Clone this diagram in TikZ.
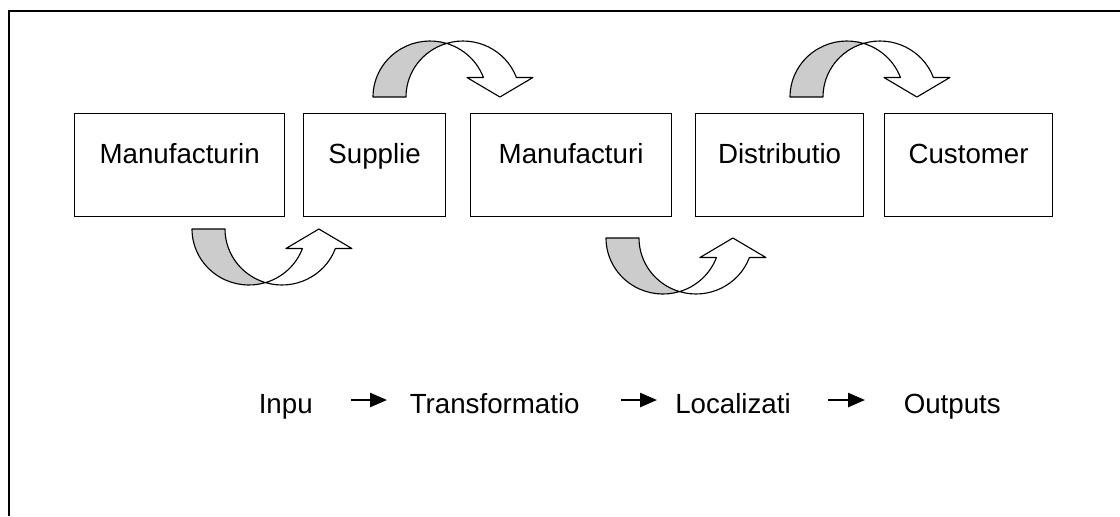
\documentclass[tikz,border=0pt]{standalone}
\usepackage{fontspec}
\setmainfont{Liberation Sans}
\usetikzlibrary{arrows.meta}
\def\uturn(#1,#2)[#3]{\begin{scope}[shift={(#1,#2)}]
	\draw[turnband] (-57,0) arc[start angle={#3*180}, end angle={#3*73.17}, x radius=57, y radius=56]
		arc[start angle={#3*106.83}, end angle={#3*180}, x radius=57, y radius=56] -- cycle;
	\draw[turnband, fill=white] ({#3*73.17}:57 and 56) arc[start angle={#3*73.17}, end angle={#3*20.4}, x radius=57, y radius=56]
		-- ++(-16.5,0) -- (69.9,0) -- (102.9,{#3*19.5}) -- (86.4,{#3*19.5})
		arc[start angle={#3*20.4}, end angle={#3*106.83}, x radius=57, y radius=56] -- cycle;
	\end{scope}}

\begin{document}
\begin{tikzpicture}[x=0.025cm, y=-0.025cm,
		stagebox/.style={draw, line width=0.8pt, anchor=north west, inner xsep=0pt, inner ysep=0pt, text height=35.2pt, text depth=37.7pt, font=\fontsize{19.7}{23.6}\selectfont},
		rowword/.style={anchor=base west, inner sep=0pt, font=\fontsize{19.7}{23.6}\selectfont},
		rowarrow/.style={line width=1.4pt, -{Triangle[length=12pt, width=10pt]}},
		turnband/.style={line width=0.8pt, line join=round, fill=black!20}]
				\useasboundingbox (0,0) rectangle (1120,516);
				\draw[line width=1.4pt] (1120,11) -- (9,11) -- (9,516);
				
				\node[stagebox, minimum width=149.4pt] (manu1) at (74,113) {Manufacturin};
				\node[stagebox, minimum width=101pt] (supp) at (303,113) {Supplie};
				\node[stagebox, minimum width=143pt] (manu2) at (470,113) {Manufacturi};
				\node[stagebox, minimum width=119.5pt] (dist) at (695,113) {Distributio};
				\node[stagebox, minimum width=119.5pt] (cust) at (884,113) {Customer};
				
				\uturn(430,97)[-1]
				\uturn(847,97)[-1]
				\uturn(249,229)[1]
				\uturn(663,238)[1]
				
				\node[rowword] (inpu) at (258.5,413) {Inpu};
				\node[rowword] (transf) at (409.5,413) {Transformatio};
				\node[rowword] (local) at (675,413) {Localizati};
				\node[rowword] (outp) at (903.5,413) {Outputs};
				
				\coordinate (a1) at (351,400);
				\coordinate (b1) at (387,400);
				\coordinate (a2) at (621,400);
				\coordinate (b2) at (657,400);
				\coordinate (a3) at (828,400);
				\coordinate (b3) at (865,400);
				\draw[rowarrow] (a1) -- (b1);
				\draw[rowarrow] (a2) -- (b2);
				\draw[rowarrow] (a3) -- (b3);
			\end{tikzpicture}
\end{document}
